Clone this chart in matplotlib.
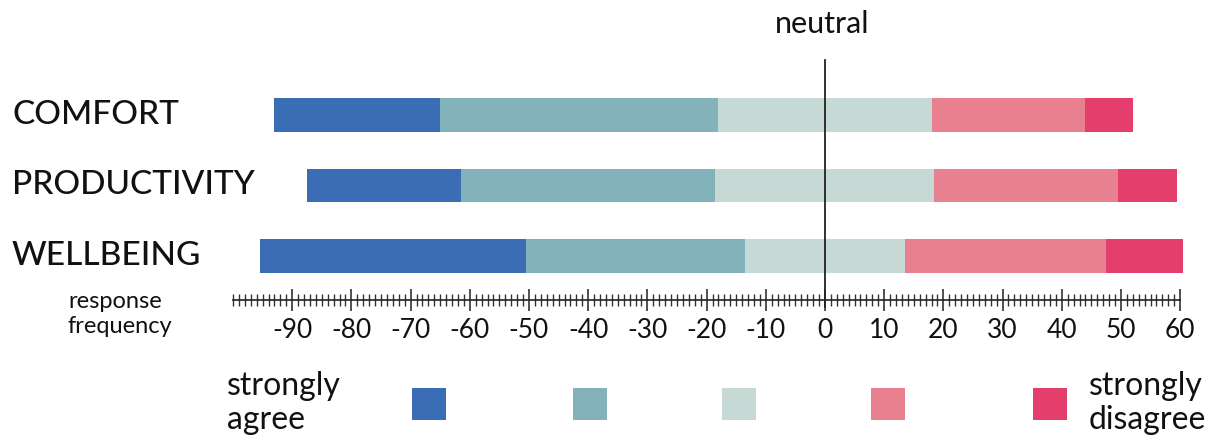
import matplotlib
matplotlib.use("Agg")
import matplotlib.pyplot as plt
from matplotlib.ticker import FixedLocator, FuncFormatter
from matplotlib.patches import Rectangle
import matplotlib.transforms as mtransforms

plt.rcParams['font.family'] = ['Lato', 'DejaVu Sans']
plt.rcParams['axes.unicode_minus'] = False

categories = ["COMFORT", "PRODUCTIVITY", "WELLBEING"]
strongly_agree = [28, 26, 45]
agree = [47, 43, 37]
neutral = [36, 37, 27]
disagree = [26, 31, 34]
strongly_disagree = [8, 10, 13]
levels = ["strongly agree", "agree", "neutral", "disagree", "strongly disagree"]
colors = ["#3B6DB5", "#84B2BB", "#C6D9D4", "#E8808F", "#E43E6C"]
major_ticks = list(range(-90, 61, 10))

W, H = 1231, 446
fig = plt.figure(figsize=(W / 100, H / 100), dpi=100)
fig.patch.set_facecolor("white")

ax_left, ax_right = 233, 1192
ax_top, ax_bot = 60, 300
ax = fig.add_axes([ax_left / W, (H - ax_bot) / H, (ax_right - ax_left) / W, (ax_bot - ax_top) / H])
ax.set_xlim(-100, 62)
ax.set_ylim(2.624, -0.78)

series = [strongly_agree, agree, neutral, disagree, strongly_disagree]
for i, cat in enumerate(categories):
    left = -(strongly_agree[i] + agree[i] + neutral[i] / 2)
    for s, col in zip(series, colors):
        ax.barh(i, s[i], left=left, height=0.47, color=col, edgecolor="none", zorder=2)
        left += s[i]

# neutral line
ax.axvline(0, ymin=-7 / 240, ymax=1, color="#222222", lw=1.3, clip_on=False, zorder=3)
fig.text(822 / W, 1 - 24 / H, "neutral", ha="center", va="center", fontsize=22, color="#111111")

for sp in ["top", "right", "left"]:
    ax.spines[sp].set_visible(False)
ax.spines["bottom"].set_bounds(-100, 60)
ax.spines["bottom"].set_linewidth(1.2)
ax.spines["bottom"].set_color("#222222")
ax.set_yticks([])

ax.xaxis.set_major_locator(FixedLocator(major_ticks))
minor = [v for v in range(-100, 61) if v not in major_ticks]
ax.xaxis.set_minor_locator(FixedLocator(minor))
ax.xaxis.set_major_formatter(FuncFormatter(lambda v, p: f"{int(v)}"))
ax.tick_params(axis="x", which="major", direction="inout", length=16, width=1.2,
               color="#333333", labelsize=19, pad=5, labelcolor="#111111")
ax.tick_params(axis="x", which="minor", direction="inout", length=9, width=1.0, color="#333333")

trans = mtransforms.blended_transform_factory(fig.transFigure, ax.transData)
for i, cat in enumerate(categories):
    ax.text(12 / W, i, cat, transform=trans, ha="left", va="center", fontsize=24,
            fontweight="medium", color="#111111", clip_on=False)

fig.text(68 / W, 1 - 314 / H, "response\nfrequency", ha="left", va="center",
         fontsize=17, color="#111111", linespacing=1.25)

# legend
sq_x = [412, 573, 722, 871, 1033]
for x, col in zip(sq_x, colors):
    fig.add_artist(Rectangle((x / W, 1 - 420 / H), 34 / W, 32 / H, transform=fig.transFigure,
                             facecolor=col, edgecolor="none"))
fig.text(227 / W, 1 - 403 / H, "strongly\nagree", ha="left", va="center", fontsize=23,
         color="#111111", linespacing=1.2)
fig.text(1089 / W, 1 - 403 / H, "strongly\ndisagree", ha="left", va="center", fontsize=23,
         color="#111111", linespacing=1.2)

fig.savefig("out.png", dpi=100, facecolor="white")
